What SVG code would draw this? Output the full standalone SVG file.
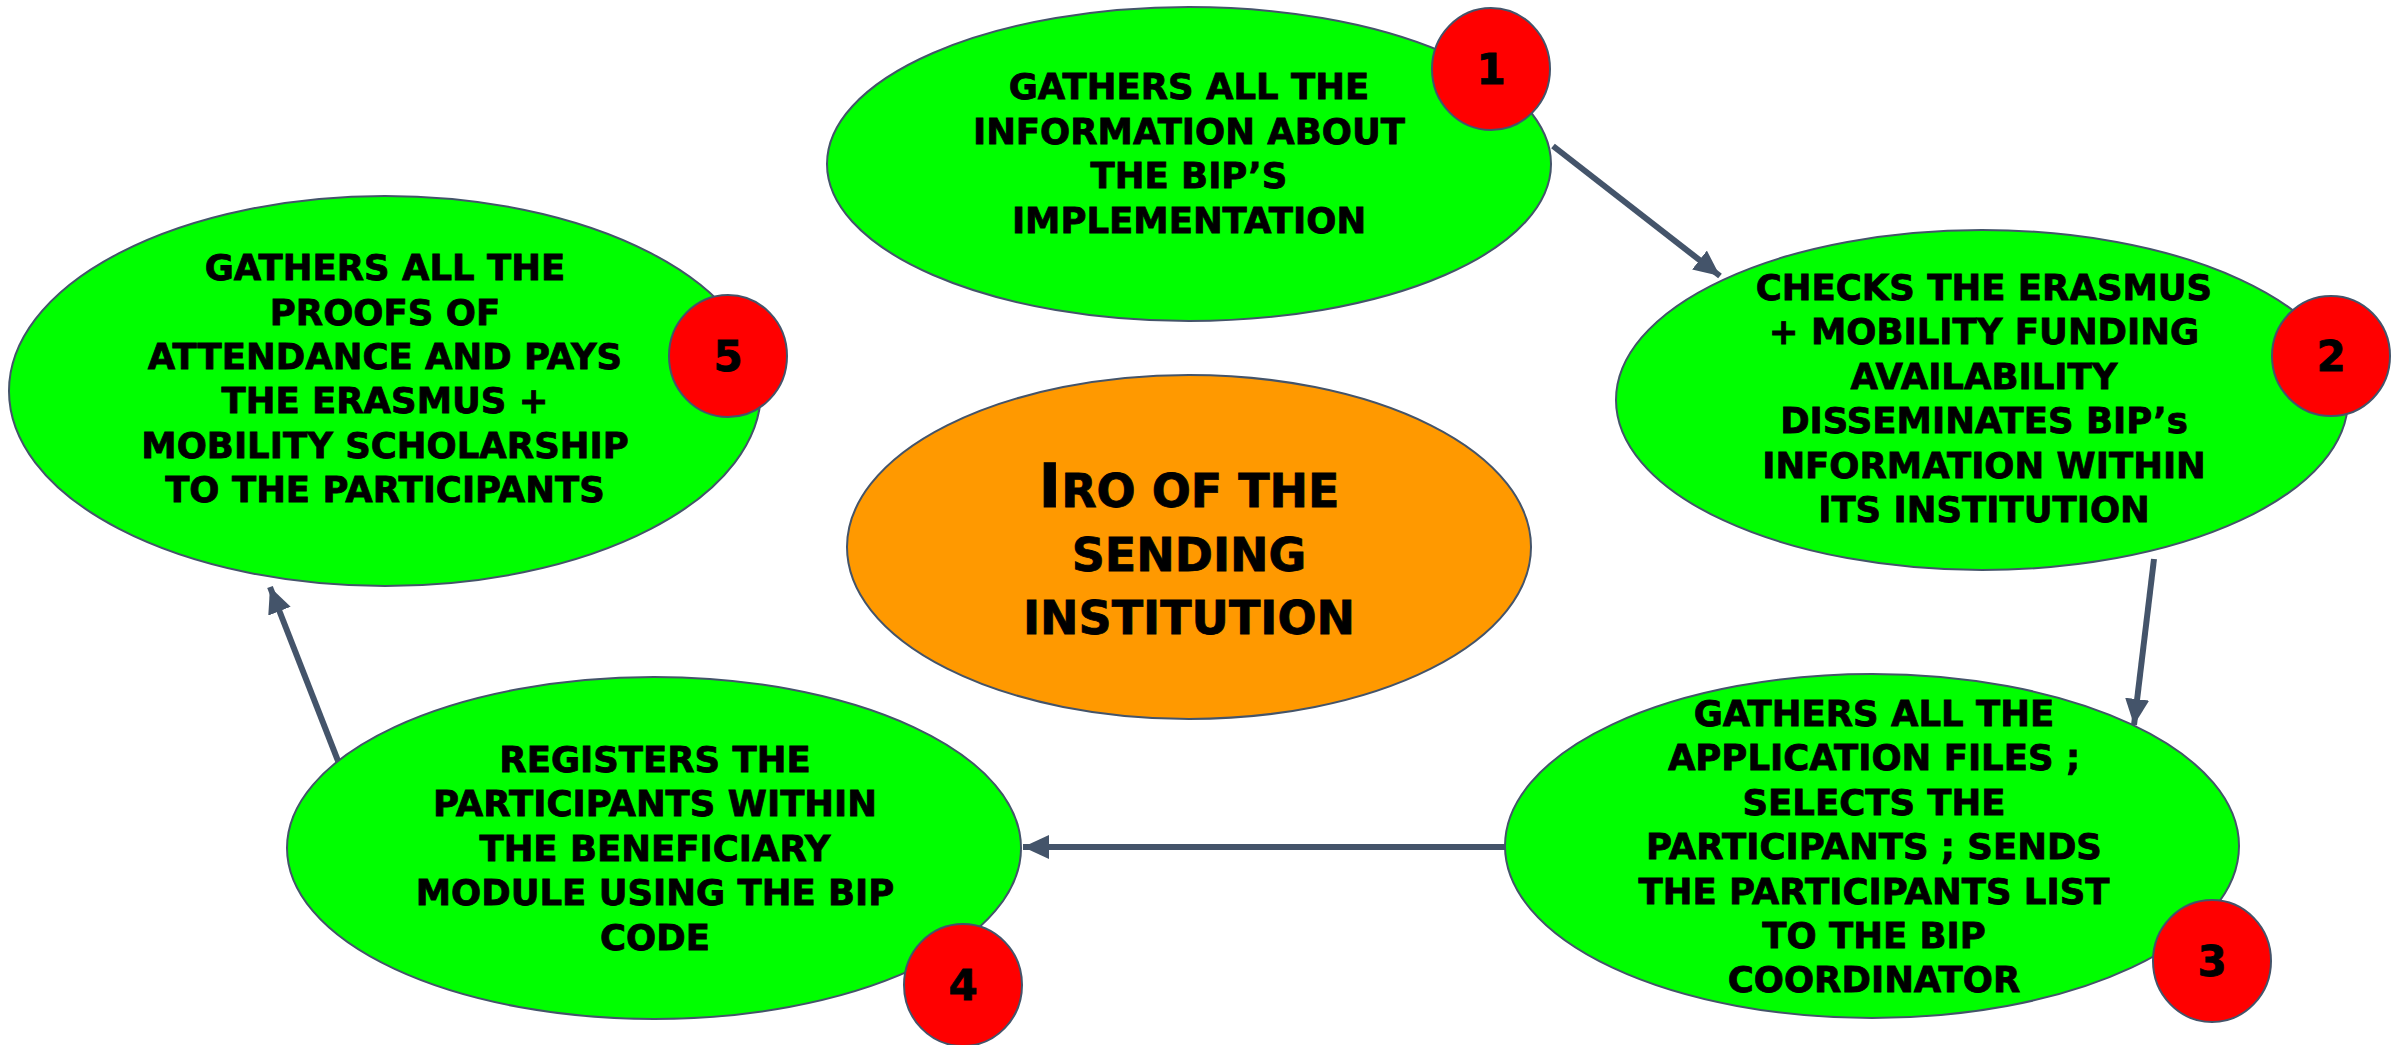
<svg xmlns="http://www.w3.org/2000/svg" width="2402" height="1045" viewBox="0 0 2402 1045">
<style>
.step{fill:#00FF00;stroke:#44546A;stroke-width:2}
.core{fill:#FF9900;stroke:#44546A;stroke-width:2}
.badge{fill:#FF0000;stroke:#44546A;stroke-width:2}
.t{font-family:"DejaVu Sans","Liberation Sans",sans-serif;font-weight:bold;font-size:35.5px;fill:#000;stroke:#000;stroke-width:0.8;text-anchor:middle}
.n{font-family:"DejaVu Sans","Liberation Sans",sans-serif;font-weight:bold;font-size:42px;fill:#000;stroke:#000;stroke-width:0.8;text-anchor:middle}
.c{font-family:"DejaVu Sans","Liberation Sans",sans-serif;font-weight:bold;font-size:46px;fill:#000;stroke:#000;stroke-width:0.8;text-anchor:middle}
.conn{stroke:#44546A;stroke-width:6;fill:none;marker-end:url(#ah)}
</style>
<defs>
<marker id="ah" markerUnits="userSpaceOnUse" markerWidth="28" markerHeight="26" refX="26" refY="12" orient="auto">
<path d="M0,0 L26,12 L0,24 z" fill="#44546A"/>
</marker>
</defs>
<rect width="2402" height="1045" fill="#FFFFFF"/>
<g id="connectors">
<line class="conn" x1="1553" y1="146" x2="1720" y2="276"/>
<line class="conn" x1="2154" y1="559" x2="2134" y2="725"/>
<line class="conn" x1="1506" y1="847" x2="1023" y2="847"/>
<line class="conn" x1="340" y1="766" x2="270" y2="587"/>
</g>
<g id="center">
<ellipse class="core" cx="1189" cy="547" rx="342" ry="172"/>
<text class="c" x="1189" y="507"><tspan font-size="61">I</tspan>RO OF THE</text>
<text class="c" x="1189" y="571">SENDING</text>
<text class="c" x="1189" y="634">INSTITUTION</text>
</g>
<g id="step1">
<ellipse class="step" cx="1189" cy="164" rx="362" ry="157"/>
<text class="t" x="1189" y="99">GATHERS ALL THE</text>
<text class="t" x="1189" y="144">INFORMATION ABOUT</text>
<text class="t" x="1189" y="188">THE BIP’S</text>
<text class="t" x="1189" y="233">IMPLEMENTATION</text>
<ellipse class="badge" cx="1491" cy="69" rx="59" ry="61"/>
<text class="n" x="1491" y="84">1</text>
</g>
<g id="step2">
<ellipse class="step" cx="1982" cy="400" rx="366" ry="170"/>
<text class="t" x="1984" y="300">CHECKS THE ERASMUS</text>
<text class="t" x="1984" y="344">+ MOBILITY FUNDING</text>
<text class="t" x="1984" y="389">AVAILABILITY</text>
<text class="t" x="1984" y="433">DISSEMINATES BIP’s</text>
<text class="t" x="1984" y="478">INFORMATION WITHIN</text>
<text class="t" x="1984" y="522">ITS INSTITUTION</text>
<ellipse class="badge" cx="2331" cy="356" rx="59" ry="60"/>
<text class="n" x="2331" y="371">2</text>
</g>
<g id="step3">
<ellipse class="step" cx="1872" cy="846" rx="367" ry="172"/>
<text class="t" x="1874" y="726">GATHERS ALL THE</text>
<text class="t" x="1874" y="770">APPLICATION FILES ;</text>
<text class="t" x="1874" y="815">SELECTS THE</text>
<text class="t" x="1874" y="859">PARTICIPANTS ; SENDS</text>
<text class="t" x="1874" y="904">THE PARTICIPANTS LIST</text>
<text class="t" x="1874" y="948">TO THE BIP</text>
<text class="t" x="1874" y="992">COORDINATOR</text>
<ellipse class="badge" cx="2212" cy="961" rx="59" ry="61"/>
<text class="n" x="2212" y="976">3</text>
</g>
<g id="step4">
<ellipse class="step" cx="654" cy="848" rx="367" ry="171"/>
<text class="t" x="655" y="772">REGISTERS THE</text>
<text class="t" x="655" y="816">PARTICIPANTS WITHIN</text>
<text class="t" x="655" y="861">THE BENEFICIARY</text>
<text class="t" x="655" y="905">MODULE USING THE BIP</text>
<text class="t" x="655" y="950">CODE</text>
<ellipse class="badge" cx="963" cy="985" rx="59" ry="61"/>
<text class="n" x="963" y="1000">4</text>
</g>
<g id="step5">
<ellipse class="step" cx="385" cy="391" rx="376" ry="195"/>
<text class="t" x="385" y="280">GATHERS ALL THE</text>
<text class="t" x="385" y="325">PROOFS OF</text>
<text class="t" x="385" y="369">ATTENDANCE AND PAYS</text>
<text class="t" x="385" y="413">THE ERASMUS +</text>
<text class="t" x="385" y="458">MOBILITY SCHOLARSHIP</text>
<text class="t" x="385" y="502">TO THE PARTICIPANTS</text>
<ellipse class="badge" cx="728" cy="356" rx="59" ry="61"/>
<text class="n" x="728" y="371">5</text>
</g>
</svg>
